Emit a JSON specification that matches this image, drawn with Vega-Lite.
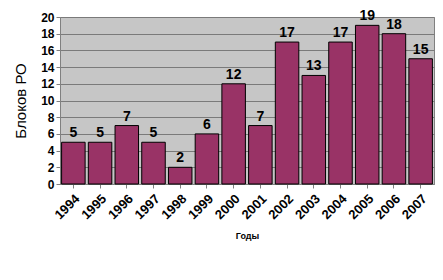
{
  "$schema": "https://vega.github.io/schema/vega-lite/v6.json",
  "autosize": {"type": "none"},
  "width": 374,
  "height": 167,
  "padding": {"left": 60, "top": 17, "right": 9, "bottom": 96},
  "background": "white",
  "config": {
    "font": "Liberation Sans",
    "view": {"fill": "#c6c6c6", "stroke": "#808080", "strokeWidth": 1}
  },
  "data": {
    "values": [
      {"year": "1994", "value": 5},
      {"year": "1995", "value": 5},
      {"year": "1996", "value": 7},
      {"year": "1997", "value": 5},
      {"year": "1998", "value": 2},
      {"year": "1999", "value": 6},
      {"year": "2000", "value": 12},
      {"year": "2001", "value": 7},
      {"year": "2002", "value": 17},
      {"year": "2003", "value": 13},
      {"year": "2004", "value": 17},
      {"year": "2005", "value": 19},
      {"year": "2006", "value": 18},
      {"year": "2007", "value": 15}
    ]
  },
  "encoding": {
    "x": {
      "field": "year",
      "type": "ordinal",
      "scale": {"paddingInner": 0.12, "paddingOuter": 0.06},
      "axis": {
        "title": "Годы",
        "titleFontSize": 9,
        "titleFontWeight": "bold",
        "titlePadding": 10,
        "labelAngle": -45,
        "labelFontSize": 13,
        "labelFontWeight": "bold",
        "labelColor": "black",
        "labelPadding": 4,
        "domainColor": "#808080",
        "tickColor": "#808080",
        "tickSize": 4
      }
    },
    "y": {
      "field": "value",
      "type": "quantitative",
      "scale": {"domain": [0, 20]},
      "axis": {
        "title": "Блоков РО",
        "titleFontSize": 15,
        "titleFontWeight": "normal",
        "titleColor": "black",
        "titlePadding": 12,
        "values": [0, 2, 4, 6, 8, 10, 12, 14, 16, 18, 20],
        "labelFontSize": 12,
        "labelFontWeight": "bold",
        "labelColor": "black",
        "gridColor": "#7a7a7a",
        "domainColor": "#808080",
        "tickColor": "#808080",
        "tickSize": 4
      }
    }
  },
  "layer": [
    {
      "mark": {"type": "bar", "color": "#993366", "stroke": "black", "strokeWidth": 1}
    },
    {
      "mark": {"type": "text", "dy": -9, "fontSize": 14, "fontWeight": "bold", "color": "black"},
      "encoding": {"text": {"field": "value", "type": "quantitative"}}
    }
  ]
}
